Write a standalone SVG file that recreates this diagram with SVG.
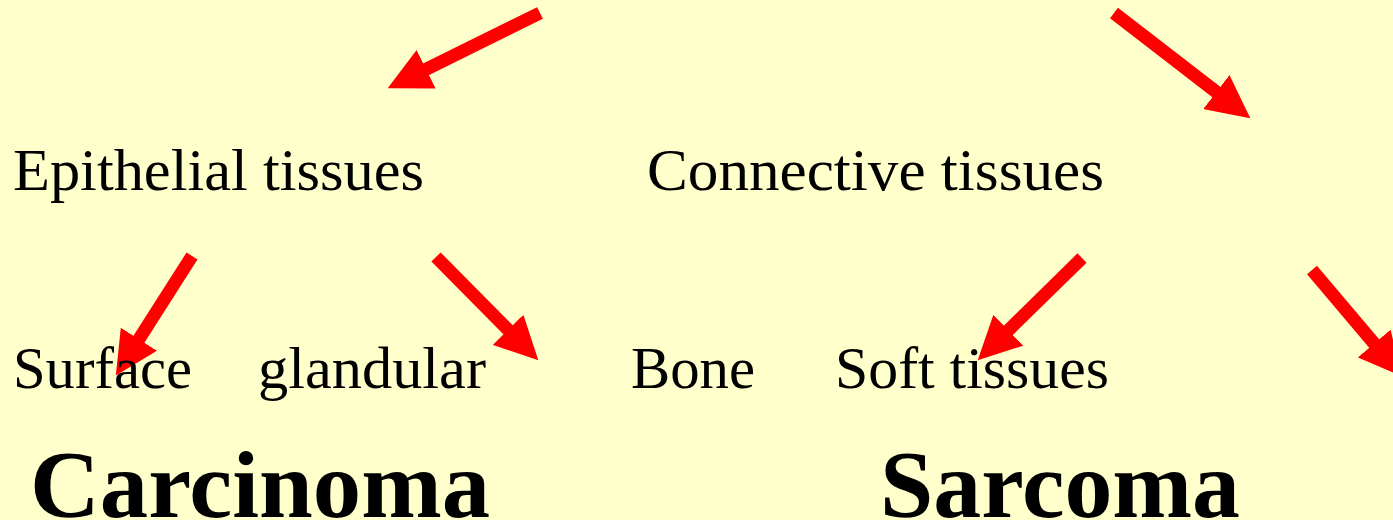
<svg xmlns="http://www.w3.org/2000/svg" width="1393" height="520" viewBox="0 0 1393 520">
<style>
.t{font-family:"Liberation Serif","Times New Roman",serif;font-size:60px;fill:#000}
.b{font-family:"Liberation Serif","Times New Roman",serif;font-size:96px;font-weight:bold;fill:#000}
.a{stroke:#FF0000;stroke-width:13;fill:none;marker-end:url(#ah)}
</style>
<defs>
<marker id="ah" markerUnits="strokeWidth" markerWidth="3.3" markerHeight="3.3" viewBox="0 0 3.3 3.3" refX="0.5" refY="1.65" orient="auto">
<path d="M0,0 L3.3,1.65 L0,3.3 z" fill="#FF0000"/>
</marker>
</defs>
<rect width="1393" height="520" fill="#FFFFCC"/>
<g id="connectors">
<line class="a" x1="540" y1="13" x2="420.3" y2="72.1"/>
<line class="a" x1="1114" y1="13" x2="1221.5" y2="96"/>
<line class="a" x1="192" y1="256" x2="135.4" y2="344.7"/>
<line class="a" x1="436" y1="257" x2="512.7" y2="334.4"/>
<line class="a" x1="1082" y1="258" x2="1003.7" y2="334.8"/>
<line class="a" x1="1312" y1="270" x2="1378.4" y2="348.5"/>
</g>
<g id="epithelial"><text class="t" x="13" y="190" textLength="411" lengthAdjust="spacingAndGlyphs">Epithelial tissues</text></g>
<g id="connective"><text class="t" x="647" y="190" textLength="457" lengthAdjust="spacingAndGlyphs">Connective tissues</text></g>
<g id="surface"><text class="t" x="13" y="388" textLength="179" lengthAdjust="spacingAndGlyphs">Surface</text></g>
<g id="glandular"><text class="t" x="258" y="388" textLength="228" lengthAdjust="spacingAndGlyphs">glandular</text></g>
<g id="bone"><text class="t" x="631" y="388" textLength="124" lengthAdjust="spacingAndGlyphs">Bone</text></g>
<g id="soft"><text class="t" x="835" y="388" textLength="274" lengthAdjust="spacingAndGlyphs">Soft tissues</text></g>
<g id="carcinoma"><text class="b" x="30" y="517" textLength="460" lengthAdjust="spacingAndGlyphs">Carcinoma</text></g>
<g id="sarcoma"><text class="b" x="880" y="517" textLength="360" lengthAdjust="spacingAndGlyphs">Sarcoma</text></g>
</svg>
